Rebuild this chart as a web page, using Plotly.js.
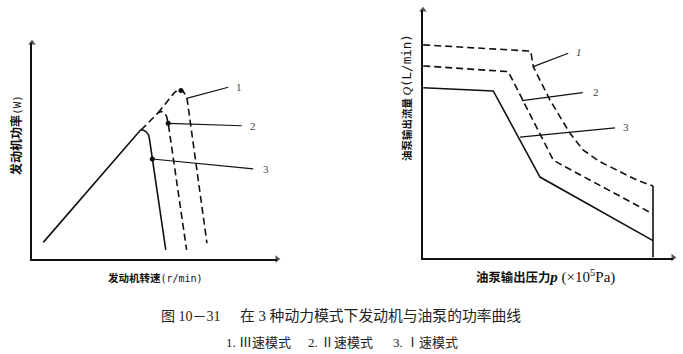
<!DOCTYPE html>
<html>
<head>
<meta charset="utf-8">
<script src="https://cdn.plot.ly/plotly-3.0.1.min.js"></script>
<style>html,body{margin:0;padding:0;background:#fff;}#chart{width:683px;height:354px;}</style>
</head>
<body>
<div id="chart"></div>
<script>
// ---- Left chart: engine power vs engine speed (unitless 0-100 scales) ----
const engSpeed3 = [4.6, 43.4, 44.3, 45.3, 46.5, 47.6, 48.0, 54.6];
const engPower3 = [7.7, 58.9, 59.7, 59.7, 59.0, 57.4, 55.1, 4.2];
const engSpeed2 = [44.5, 51.4, 52.7, 53.9, 54.9, 55.6, 63.1];
const engPower2 = [59.7, 67.6, 68.3, 67.8, 66.2, 62.8, 4.2];
const engSpeed1 = [51.4, 58.0, 59.2, 60.4, 61.6, 62.9, 63.3, 71.4];
const engPower1 = [67.6, 76.9, 78.0, 78.5, 77.8, 75.5, 74.1, 7.4];
const engDotX = [60.8, 55.6, 49.1];
const engDotY = [78.0, 62.8, 46.3];
const engLeadFromX = [63.1, 55.6, 49.1];
const engLeadFromY = [74.4, 62.8, 46.3];
const engLeadToX = [80.1, 85.6, 90.3];
const engLeadToY = [79.5, 61.7, 41.7];
const engLabelX = [82.4, 88.0, 93.3];
const engLabelY = [79.8, 61.7, 41.7];
const curveLabels = ["1", "2", "3"];

// ---- Right chart: pump flow vs pump pressure ----
const pumpP3 = [0.1, 28.1, 46.8, 92.0];
const pumpQ3 = [68.6, 67.3, 32.5, 6.8];
const pumpP2 = [0.1, 34.1, 52.1, 55.5, 92.0];
const pumpQ2 = [77.4, 75.1, 39.4, 37.4, 17.6];
const pumpP1 = [0.1, 43.1, 44.1, 50.8, 58.8, 64.1, 70.8, 78.8, 85.5, 92.0];
const pumpQ1 = [85.9, 83.4, 77.1, 63.6, 50.2, 43.4, 38.7, 34.7, 31.3, 28.9];
const pumpLimitP = [92.0, 92.0];
const pumpLimitQ = [28.9, 0];
const pumpLeadFromX = [44.1, 39.5, 38.8];
const pumpLeadFromY = [77.1, 63.4, 48.6];
const pumpLeadToX = [58.1, 63.9, 76.8];
const pumpLeadToY = [82.5, 66.6, 52.4];
const pumpLabelX = [60.3, 67.1, 79.0];
const pumpLabelY = [82.9, 67.0, 52.6];

const captionNo = "图 10－31";
const captionText = "在 3 种动力模式下发动机与油泵的功率曲线";
const modeLabels = ["1. Ⅲ速模式", "2. Ⅱ速模式", "3. Ⅰ速模式"];

const INK = "#111";
const solid = {color: INK, width: 1.6};
const dashed = {color: INK, width: 1.6, dash: "7px,4px"};

const traces = [
  {x: engSpeed3, y: engPower3, mode: "lines", line: solid, xaxis: "x", yaxis: "y"},
  {x: engSpeed2, y: engPower2, mode: "lines", line: dashed, xaxis: "x", yaxis: "y"},
  {x: engSpeed1, y: engPower1, mode: "lines", line: dashed, xaxis: "x", yaxis: "y"},
  {x: engDotX, y: engDotY, mode: "markers", marker: {color: INK, size: 5}, xaxis: "x", yaxis: "y"},
  {x: pumpP3, y: pumpQ3, mode: "lines", line: solid, xaxis: "x2", yaxis: "y2"},
  {x: pumpP2, y: pumpQ2, mode: "lines", line: dashed, xaxis: "x2", yaxis: "y2"},
  {x: pumpP1, y: pumpQ1, mode: "lines", line: dashed, xaxis: "x2", yaxis: "y2"},
  {x: pumpLimitP, y: pumpLimitQ, mode: "lines", line: solid, xaxis: "x2", yaxis: "y2"}
];
for (let i = 0; i < 3; i++) {
  traces.push({x: [engLeadFromX[i], engLeadToX[i]], y: [engLeadFromY[i], engLeadToY[i]],
    mode: "lines", line: {color: INK, width: 1.2}, xaxis: "x", yaxis: "y"});
  traces.push({x: [pumpLeadFromX[i], pumpLeadToX[i]], y: [pumpLeadFromY[i], pumpLeadToY[i]],
    mode: "lines", line: {color: INK, width: 1.2}, xaxis: "x2", yaxis: "y2"});
}
// axis arrowheads at the ends of the axes
traces.push({x: [0], y: [100], mode: "markers", cliponaxis: false, marker: {symbol: "triangle-up", size: [8], color: INK}, xaxis: "x", yaxis: "y"});
traces.push({x: [100], y: [0], mode: "markers", cliponaxis: false, marker: {symbol: "triangle-right", size: [8], color: INK}, xaxis: "x", yaxis: "y"});
traces.push({x: [0], y: [100], mode: "markers", cliponaxis: false, marker: {symbol: "triangle-up", size: [8], color: INK}, xaxis: "x2", yaxis: "y2"});
traces.push({x: [100], y: [0], mode: "markers", cliponaxis: false, marker: {symbol: "triangle-right", size: [8], color: INK}, xaxis: "x2", yaxis: "y2"});

const axisStyle = {showgrid: false, zeroline: false, showticklabels: false, showline: true,
  linecolor: INK, linewidth: 2, ticks: "", mirror: false};
const W = 683, H = 354;
const px = v => v / W, py = v => 1 - v / H;

const annotations = [];
const labelFont = {family: "Liberation Serif", size: 11, color: "#444"};
for (let i = 0; i < 3; i++) {
  annotations.push({xref: "x", yref: "y", x: engLabelX[i], y: engLabelY[i], text: curveLabels[i],
    showarrow: false, xanchor: "left", yanchor: "middle", font: labelFont});
  annotations.push({xref: "x2", yref: "y2", x: pumpLabelX[i], y: pumpLabelY[i], text: i === 0 ? "<i>" + curveLabels[i] + "</i>" : curveLabels[i],
    showarrow: false, xanchor: "left", yanchor: "middle", font: labelFont});
}

function paperText(x, y, text, font, angle) {
  annotations.push({xref: "paper", yref: "paper", x: px(x), y: py(y), text: text,
    xanchor: "center", yanchor: "middle", textangle: angle || 0, showarrow: false, font: font});
}
const mono = (s, sz) => '<span style="font-family:DejaVu Sans Mono;font-weight:normal;font-size:' + sz + 'px">' + s + '</span>';

paperText(15, 135, "发动机功率" + mono("(W)", 11), {family: "Noto Sans CJK SC", size: 12, color: "#111", weight: "bold"}, -90);
paperText(155, 277, "发动机转速" + mono("(r/min)", 10), {family: "Noto Sans CJK SC", size: 10.5, color: "#111", weight: "bold"});
paperText(406, 98, "油泵输出流量 " + '<span style="font-family:Liberation Serif;font-weight:normal;font-size:12px"><i>Q</i></span>' + mono("(L/min)", 12.5),
  {family: "Noto Sans CJK SC", size: 10.5, color: "#111", weight: "bold"}, -90);
paperText(545, 276, "油泵输出压力" + '<span style="font-family:Liberation Serif;font-weight:normal;font-size:15px"><b><i>p</i></b> (×10<sup>5</sup>Pa)</span>',
  {family: "Noto Sans CJK SC", size: 12.4, color: "#111", weight: "bold"});

const capFont = {family: "Liberation Serif, Noto Sans CJK SC", size: 14, color: "#222"};
paperText(191, 316, captionNo, capFont);
paperText(380, 316, captionText, {family: "Liberation Serif, Noto Sans CJK SC", size: 14.8, color: "#222"});
const modeFont = {family: "Liberation Serif, Noto Sans CJK SC", size: 13, color: "#222"};
const modeCenters = [258.5, 340.5, 425];
for (let i = 0; i < 3; i++) paperText(modeCenters[i], 342, modeLabels[i], modeFont);

const layout = {
  width: W, height: H,
  margin: {l: 0, r: 0, t: 0, b: 0},
  paper_bgcolor: "#fff", plot_bgcolor: "rgba(0,0,0,0)",
  showlegend: false,
  xaxis: Object.assign({domain: [px(32), px(277)], range: [0, 100], anchor: "y"}, axisStyle),
  yaxis: Object.assign({domain: [1 - 259 / H, 1 - 43 / H], range: [0, 100], anchor: "x"}, axisStyle),
  xaxis2: Object.assign({domain: [px(423), px(673)], range: [0, 100], anchor: "y2"}, axisStyle),
  yaxis2: Object.assign({domain: [1 - 257.5 / H, 1 - 10 / H], range: [0, 100], anchor: "x2"}, axisStyle),
  annotations: annotations
};

Plotly.newPlot("chart", traces, layout, {staticPlot: true, displayModeBar: false});
</script>
</body>
</html>
